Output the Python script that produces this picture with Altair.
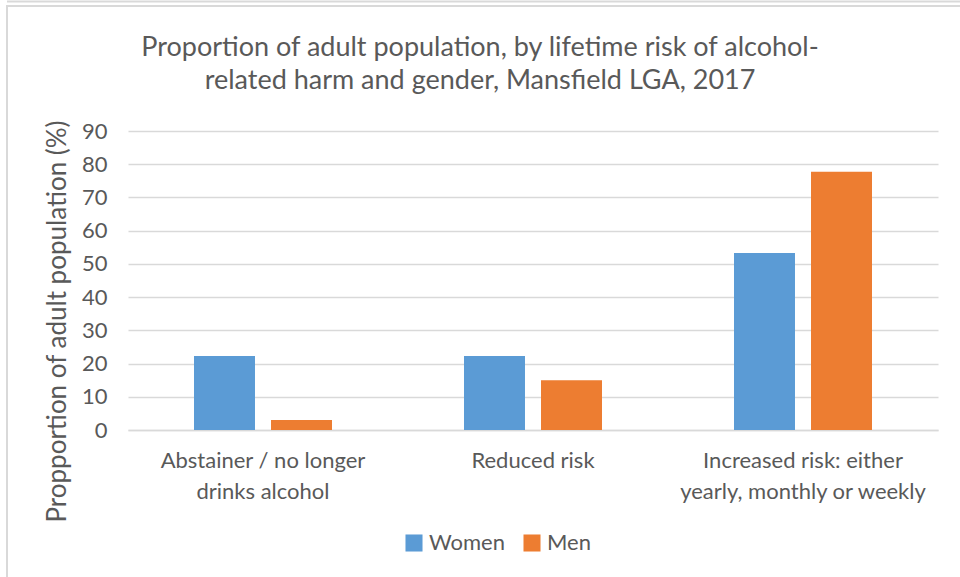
import altair as alt
import pandas as pd

# Risk categories (x axis) and their two-line tick labels
categories = [
    "Abstainer / no longer drinks alcohol",
    "Reduced risk",
    "Increased risk: either yearly, monthly or weekly",
]
category_lines = [
    ["Abstainer / no longer", "drinks alcohol"],
    ["Reduced risk"],
    ["Increased risk: either", "yearly, monthly or weekly"],
]
genders = ["Women", "Men"]
gender_colors = ["#5B9BD5", "#ED7D31"]

# Percent of adult population in each category
women = [22.3, 22.3, 53.3]
men = [3.0, 15.0, 77.7]

rows = []
for cat, w, m in zip(categories, women, men):
    rows.append({"category": cat, "gender": "Women", "value": w})
    rows.append({"category": cat, "gender": "Men", "value": m})
df = pd.DataFrame(rows)

# labelExpr that maps each category to its multi-line label
label_map = "{" + ", ".join(
    "'" + c + "': [" + ", ".join("'" + l + "'" for l in lines) + "]"
    for c, lines in zip(categories, category_lines)
) + "}"

FONT = "Lato"
TEXT = "#595959"
GRID = "#D9D9D9"

bars = alt.Chart(df).mark_bar().encode(
    x=alt.X(
        "category:N",
        sort=categories,
        scale=alt.Scale(paddingInner=0, paddingOuter=0),
        axis=alt.Axis(
            title=None,
            labelAngle=0,
            labelExpr=label_map + "[datum.label]",
            labelFontSize=22,
            labelColor=TEXT,
            labelFont=FONT,
            labelPadding=20,
            labelLineHeight=31,
            labelBaseline="top",
            labelLimit=400,
            ticks=False,
            grid=False,
            domainColor=GRID,
            domainWidth=1.5,
        ),
    ),
    xOffset=alt.XOffset(
        "gender:N",
        sort=genders,
        scale=alt.Scale(paddingInner=0.208, paddingOuter=0.857),
    ),
    y=alt.Y(
        "value:Q",
        scale=alt.Scale(domain=[0, 90], nice=False),
        axis=alt.Axis(
            values=list(range(0, 91, 10)),
            title="Propportion of adult population (%)",
            titleFont=FONT,
            titleFontSize=26,
            titleFontWeight="normal",
            titleColor=TEXT,
            titleX=-71,
            titleY=190,
            titleAngle=-90,
            titleAlign="center",
            titleBaseline="middle",
            labelFont=FONT,
            labelFontSize=22,
            labelColor=TEXT,
            labelPadding=21,
            ticks=False,
            domain=False,
            grid=True,
            gridColor=GRID,
            gridWidth=1.5,
        ),
    ),
    color=alt.Color(
        "gender:N",
        sort=genders,
        scale=alt.Scale(domain=genders, range=gender_colors),
        legend=alt.Legend(
            title=None,
            orient="none",
            direction="horizontal",
            legendX=275,
            legendY=401,
            symbolType="square",
            symbolSize=290,
            symbolStrokeWidth=0,
            labelFont=FONT,
            labelFontSize=22,
            labelColor=TEXT,
            columnPadding=16,
            labelOffset=4,
        ),
    ),
)

# Thin grey frame lines around the figure
frame_data = alt.Data(values=[{}])
frame_v = alt.Chart(frame_data).mark_rule(color=GRID, strokeWidth=2).encode(
    x=alt.value(-121), y=alt.value(-126), y2=alt.value(446)
)
frame_top1 = alt.Chart(frame_data).mark_rule(color=GRID, strokeWidth=2).encode(
    x=alt.value(-121), x2=alt.value(832), y=alt.value(-129.5)
)
frame_top2 = alt.Chart(frame_data).mark_rule(color=GRID, strokeWidth=2).encode(
    x=alt.value(-121), x2=alt.value(832), y=alt.value(-125)
)

chart = alt.layer(bars, frame_v, frame_top1, frame_top2).properties(
    width=810,
    height=299,
    background="white",
    autosize=alt.AutoSizeParams(type="none"),
    padding={"left": 128, "top": 131, "right": 22, "bottom": 147},
    title=alt.TitleParams(
        text=[
            "Proportion of adult population, by lifetime risk of alcohol-",
            "related harm and gender, Mansfield LGA, 2017",
        ],
        font=FONT,
        fontSize=27,
        fontWeight="normal",
        color=TEXT,
        anchor="middle",
        dx=-53,
        offset=-94,
        lineHeight=33,
    ),
).configure_view(stroke=None)

chart.save("out.html", embed_options={"renderer": "svg", "actions": False})
